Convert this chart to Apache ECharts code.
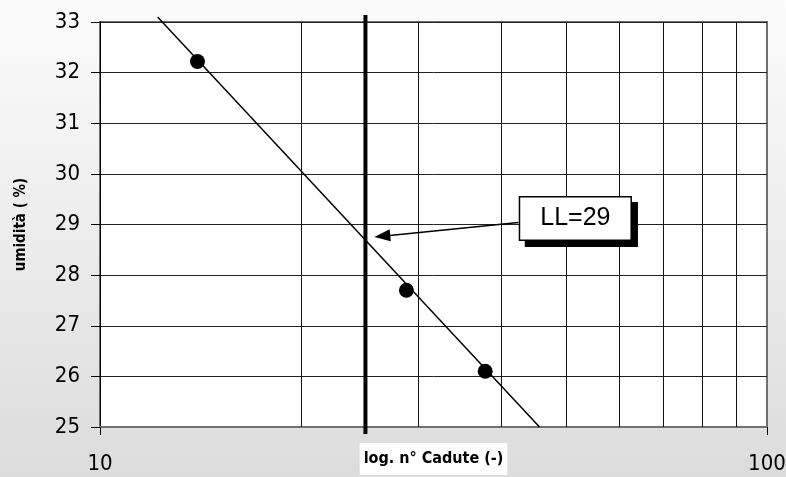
<!DOCTYPE html>
<html>
<head>
<meta charset="utf-8">
<script src="https://cdn.jsdelivr.net/npm/echarts@6/dist/echarts.min.js"></script>
<style>
  html, body { margin: 0; padding: 0; }
  body { background: linear-gradient(to bottom, #fcfcfc, #dcdcdc); width: 786px; height: 477px; }
  #main { width: 786px; height: 477px; }
</style>
</head>
<body>
<div id="main"></div>
<script>
// measured points (n. cadute, umidita %)
var cadute = [14, 28.8, 37.8];
var umidita = [32.22, 27.7, 26.1];
// trend line ends
var trendX = [12.2, 45.6];
var trendY = [33.1, 25];
// vertical grid at 20..90
var gridX = [20, 30, 40, 50, 60, 70, 80, 90];
var llX = 25;
var llY = [24.86, 33.14];
var arrowFrom = [42.4, 29.04];
var arrowTo = [26.5, 28.77];
var boxAt = [51.6, 29.12];
var boxText = 'LL=29';

var narrow = "'Liberation Sans Narrow', 'DejaVu Sans Condensed', sans-serif";

function pairs(xs, ys) {
    var out = [];
    for (var i = 0; i < xs.length; i++) out.push([xs[i], ys[i]]);
    return out;
}

var chart = echarts.init(document.getElementById('main'));
var option = {
    animation: false,
    backgroundColor: 'transparent',
    grid: {
        left: 100, right: 19, top: 22, bottom: 50,
        outerBoundsMode: 'none',
        show: true, backgroundColor: '#fff', borderColor: '#707070', borderWidth: 2
    },
    xAxis: {
        type: 'log', logBase: 10, min: 10, max: 100,
        name: 'log. n° Cadute (-)', nameLocation: 'middle', nameGap: 16,
        nameMoveOverlap: false,
        nameTextStyle: {
            fontFamily: narrow, fontWeight: 'bold', fontSize: 16, color: '#000',
            backgroundColor: '#fff', padding: [8, 4, 8, 4]
        },
        axisLine: { lineStyle: { color: '#707070', width: 2 } },
        axisTick: { length: 8, lineStyle: { color: '#000' } },
        axisLabel: { fontFamily: narrow, fontSize: 22, color: '#000', margin: 26 },
        splitLine: { show: false }
    },
    yAxis: {
        type: 'value', min: 25, max: 33, interval: 1,
        name: 'umidità ( %)', nameLocation: 'middle', nameGap: 71,
        nameMoveOverlap: false,
        nameTextStyle: { fontFamily: narrow, fontWeight: 'bold', fontSize: 15, color: '#000' },
        axisLine: { show: true, lineStyle: { color: '#000', width: 1 } },
        axisTick: { show: true, length: 9, lineStyle: { color: '#000' } },
        axisLabel: { fontFamily: narrow, fontSize: 22, color: '#000', margin: 20 },
        splitLine: { lineStyle: { color: '#222', width: 1 } }
    },
    series: [
        {
            type: 'line',
            data: [],
            silent: true,
            markLine: {
                silent: true, symbol: 'none', animation: false,
                label: { show: false },
                lineStyle: { color: '#111', width: 1, type: 'solid' },
                data: gridX.map(function (v) { return { xAxis: v }; })
            }
        },
        {
            type: 'line',
            data: pairs(trendX, trendY),
            clip: false,
            showSymbol: false,
            lineStyle: { color: '#000', width: 1.5 },
            z: 3
        },
        {
            type: 'line',
            data: llY.map(function (y) { return [llX, y]; }),
            clip: false,
            showSymbol: false,
            lineStyle: { color: '#000', width: 4 },
            z: 3
        },
        {
            type: 'scatter',
            data: pairs(cadute, umidita),
            symbolSize: 15,
            itemStyle: { color: '#000', opacity: 1 },
            z: 4,
            markLine: {
                silent: true, animation: false,
                symbol: ['none', 'triangle'], symbolSize: [12, 16],
                label: { show: false },
                itemStyle: { color: '#000' },
                lineStyle: { color: '#000', width: 1.5, type: 'solid', opacity: 1 },
                data: [[{ coord: arrowFrom }, { coord: arrowTo }]]
            },
            markPoint: {
                silent: true, animation: false,
                symbol: 'rect', symbolSize: 1,
                itemStyle: { color: 'transparent' },
                label: {
                    show: true, position: 'inside', formatter: boxText,
                    fontFamily: "'Liberation Sans', Arial, sans-serif", fontSize: 25, color: '#000',
                    backgroundColor: '#fff', borderColor: '#000', borderWidth: 1.5,
                    padding: [9, 20, 8, 20],
                    shadowColor: '#000', shadowBlur: 0, shadowOffsetX: 6, shadowOffsetY: 6
                },
                data: [{ coord: boxAt }]
            }
        }
    ]
};
chart.setOption(option);
</script>
</body>
</html>
